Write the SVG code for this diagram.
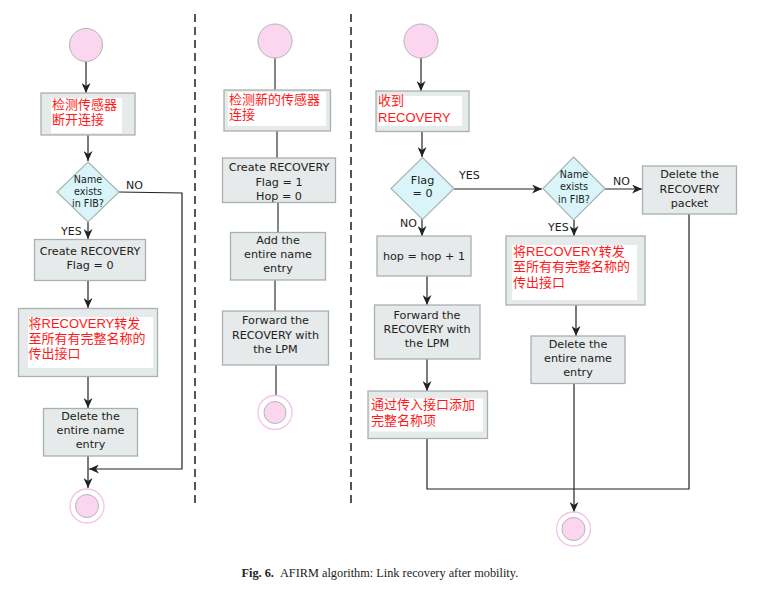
<svg xmlns="http://www.w3.org/2000/svg" width="767" height="590" viewBox="0 0 767 590">
<defs>
<marker id="arr" markerUnits="userSpaceOnUse" markerWidth="11" markerHeight="9" refX="10" refY="4.5" orient="auto">
<path d="M0,0 L10,4.5 L0,9 L3,4.5 z" fill="#222"/>
</marker>
</defs>
<style>
.box{fill:#e6eaea;stroke:#a9b0b0;stroke-width:1.3}
.dia{fill:#d9f5f9;stroke:#a9b4b4;stroke-width:1.2}
.start{fill:#fcd6ee;stroke:#b5b5b5;stroke-width:1}
.ring{fill:#fff;stroke:#f2c4ea;stroke-width:1.3}
.white{fill:#fff}
.t{font-family:"DejaVu Sans",Verdana,sans-serif;font-size:11.2px;fill:#222;text-anchor:middle}
.d{font-family:"DejaVu Sans",Verdana,sans-serif;font-size:9.6px;fill:#222;text-anchor:middle}
.lab{font-family:"DejaVu Sans",Verdana,sans-serif;font-size:11px;fill:#222}
.red{font-family:"Liberation Sans","Noto Sans CJK SC",sans-serif;font-size:13px;fill:#ff1a1a}
.ln{fill:none;stroke:#222;stroke-width:1.2}
.ln2{fill:none;stroke:#666;stroke-width:1.6}
.sep{stroke:#555;stroke-width:2;stroke-dasharray:8 5}
.cap{font-family:"Liberation Serif",serif;font-size:12.3px;fill:#222}
</style>
<g id="separators">
<line class="sep" x1="195" y1="14" x2="195" y2="506"/>
<line class="sep" x1="351" y1="14" x2="351" y2="506"/>
</g>
<g id="connectors">
<line class="ln" x1="86" y1="62" x2="86" y2="93" marker-end="url(#arr)"/>
<line class="ln" x1="88" y1="135" x2="88" y2="161" marker-end="url(#arr)"/>
<line class="ln" x1="88" y1="222" x2="88" y2="239" marker-end="url(#arr)"/>
<path class="ln" d="M119,192 L182,193 L182,469 L89,469" marker-end="url(#arr)"/>
<line class="ln" x1="88" y1="281" x2="88" y2="308" marker-end="url(#arr)"/>
<line class="ln" x1="88" y1="377" x2="88" y2="408" marker-end="url(#arr)"/>
<line class="ln" x1="88" y1="456" x2="88" y2="488" marker-end="url(#arr)"/>
<line class="ln2" x1="275" y1="58" x2="275" y2="90"/>
<line class="ln2" x1="277" y1="131" x2="277" y2="158"/>
<line class="ln2" x1="278" y1="203" x2="278" y2="232"/>
<line class="ln2" x1="275" y1="280" x2="275" y2="311"/>
<line class="ln2" x1="276" y1="365" x2="276" y2="395"/>
<line class="ln" x1="421" y1="58" x2="421" y2="91" marker-end="url(#arr)"/>
<line class="ln" x1="422" y1="132" x2="422" y2="157" marker-end="url(#arr)"/>
<line class="ln" x1="454" y1="189" x2="542" y2="189" marker-end="url(#arr)"/>
<line class="ln" x1="422" y1="219" x2="422" y2="236" marker-end="url(#arr)"/>
<line class="ln" x1="427" y1="276" x2="427" y2="305" marker-end="url(#arr)"/>
<line class="ln" x1="427" y1="359" x2="427" y2="391" marker-end="url(#arr)"/>
<path class="ln" d="M427,438 L427,489 L689,489 L689,214"/>
<line class="ln" x1="605" y1="189" x2="642" y2="189" marker-end="url(#arr)"/>
<line class="ln" x1="574" y1="220" x2="574" y2="236" marker-end="url(#arr)"/>
<line class="ln" x1="576" y1="305" x2="576" y2="336" marker-end="url(#arr)"/>
<line class="ln" x1="574" y1="383" x2="574" y2="512" marker-end="url(#arr)"/>
</g>
<g id="c1-start"><circle class="start" cx="86" cy="45" r="16.5"/></g>
<g id="c1-detect">
<rect class="box" x="41" y="93" width="94" height="42"/>
<rect class="white" x="51" y="98" width="71" height="35"/>
<text class="red" x="52" y="109">检测传感器</text>
<text class="red" x="52" y="124">断开连接</text>
</g>
<g id="c1-name">
<polygon class="dia" points="88,162 119,192 88,222 57,192"/>
<text class="d" x="88" y="183">Name</text>
<text class="d" x="88" y="195">exists</text>
<text class="d" x="88" y="207">in FIB?</text>
</g>
<g id="c1-labels">
<text class="lab" x="126" y="189">NO</text>
<text class="lab" x="61" y="235">YES</text>
</g>
<g id="c1-create">
<rect class="box" x="34.5" y="239.5" width="111" height="41"/>
<text class="t" x="90" y="255">Create RECOVERY</text>
<text class="t" x="90" y="269">Flag = 0</text>
</g>
<g id="c1-forward">
<rect class="box" x="18.5" y="308.5" width="139" height="68"/>
<rect class="white" x="28" y="317" width="125" height="51"/>
<text class="red" x="28.5" y="328">将RECOVERY转发</text>
<text class="red" x="28.5" y="343">至所有有完整名称的</text>
<text class="red" x="28.5" y="358">传出接口</text>
</g>
<g id="c1-delete">
<rect class="box" x="43.5" y="408.5" width="94" height="47.5"/>
<text class="t" x="90.5" y="420">Delete the</text>
<text class="t" x="90.5" y="434">entire name</text>
<text class="t" x="90.5" y="448">entry</text>
</g>
<g id="c1-end">
<circle class="ring" cx="87" cy="506" r="17"/>
<circle class="start" cx="87" cy="506" r="11.5"/>
</g>
<g id="c2-start"><circle class="start" cx="275" cy="41" r="17"/></g>
<g id="c2-detect">
<rect class="box" x="224" y="90" width="106.5" height="41"/>
<rect class="white" x="228" y="92" width="98" height="34"/>
<text class="red" x="229" y="104">检测新的传感器</text>
<text class="red" x="229" y="119">连接</text>
</g>
<g id="c2-create">
<rect class="box" x="222.5" y="158" width="113" height="44.5"/>
<text class="t" x="279" y="171">Create RECOVERY</text>
<text class="t" x="279" y="186">Flag = 1</text>
<text class="t" x="279" y="199.5">Hop = 0</text>
</g>
<g id="c2-add">
<rect class="box" x="230.5" y="232.5" width="95" height="47.5"/>
<text class="t" x="278" y="244">Add the</text>
<text class="t" x="278" y="258">entire name</text>
<text class="t" x="278" y="272">entry</text>
</g>
<g id="c2-forward">
<rect class="box" x="222.5" y="311" width="106" height="54"/>
<text class="t" x="275.5" y="324">Forward the</text>
<text class="t" x="275.5" y="338.5">RECOVERY with</text>
<text class="t" x="275.5" y="352.5">the LPM</text>
</g>
<g id="c2-end">
<circle class="ring" cx="275" cy="412.5" r="17"/>
<circle class="start" cx="275" cy="412.5" r="11"/>
</g>
<g id="c3-start"><circle class="start" cx="421" cy="41" r="17"/></g>
<g id="c3-receive">
<rect class="box" x="376" y="91" width="93" height="40.5"/>
<rect class="white" x="378" y="96" width="84" height="30"/>
<text class="red" x="378" y="104.5">收到</text>
<text class="red" x="378" y="122">RECOVERY</text>
</g>
<g id="c3-flag">
<polygon class="dia" points="422.5,157.5 454,188.5 422.5,219.5 391,188.5"/>
<text class="t" x="422.5" y="183.5">Flag</text>
<text class="t" x="422.5" y="197">= 0</text>
</g>
<g id="c3-labels">
<text class="lab" x="459" y="178.5">YES</text>
<text class="lab" x="400" y="227">NO</text>
<text class="lab" x="613" y="185">NO</text>
<text class="lab" x="548" y="231">YES</text>
</g>
<g id="c3-hop">
<rect class="box" x="377" y="236" width="94" height="40"/>
<text class="t" x="424" y="259.5">hop = hop + 1</text>
</g>
<g id="c3-forward">
<rect class="box" x="374.5" y="305" width="105.5" height="54"/>
<text class="t" x="427" y="318.5">Forward the</text>
<text class="t" x="427" y="333">RECOVERY with</text>
<text class="t" x="427" y="347">the LPM</text>
</g>
<g id="c3-add">
<rect class="box" x="368" y="391" width="119.5" height="47.5"/>
<rect class="white" x="370" y="398.5" width="113" height="33"/>
<text class="red" x="371" y="408.5">通过传入接口添加</text>
<text class="red" x="371" y="424.5">完整名称项</text>
</g>
<g id="c3-name">
<polygon class="dia" points="573.5,157 605,188.5 573.5,220 543,188.5"/>
<text class="d" x="574" y="177.5">Name</text>
<text class="d" x="574" y="190">exists</text>
<text class="d" x="574" y="203">in FIB?</text>
</g>
<g id="c3-delpkt">
<rect class="box" x="642.5" y="166" width="94" height="48"/>
<text class="t" x="689.5" y="178">Delete the</text>
<text class="t" x="689.5" y="193">RECOVERY</text>
<text class="t" x="689.5" y="207">packet</text>
</g>
<g id="c3-forwardall">
<rect class="box" x="506" y="236" width="139" height="69"/>
<rect class="white" x="512" y="245" width="125" height="55"/>
<text class="red" x="513" y="255.5">将RECOVERY转发</text>
<text class="red" x="513" y="271">至所有有完整名称的</text>
<text class="red" x="513" y="287">传出接口</text>
</g>
<g id="c3-delete">
<rect class="box" x="531" y="336" width="94" height="47.5"/>
<text class="t" x="578" y="347.5">Delete the</text>
<text class="t" x="578" y="362">entire name</text>
<text class="t" x="578" y="376">entry</text>
</g>
<g id="c3-end">
<circle class="ring" cx="573.5" cy="529" r="17"/>
<circle class="start" cx="573.5" cy="529" r="11.5"/>
</g>
<g id="caption">
<text class="cap" x="241.5" y="577"><tspan font-weight="bold">Fig. 6.</tspan><tspan dx="6">AFIRM algorithm: Link recovery after mobility.</tspan></text>
</g>
</svg>
